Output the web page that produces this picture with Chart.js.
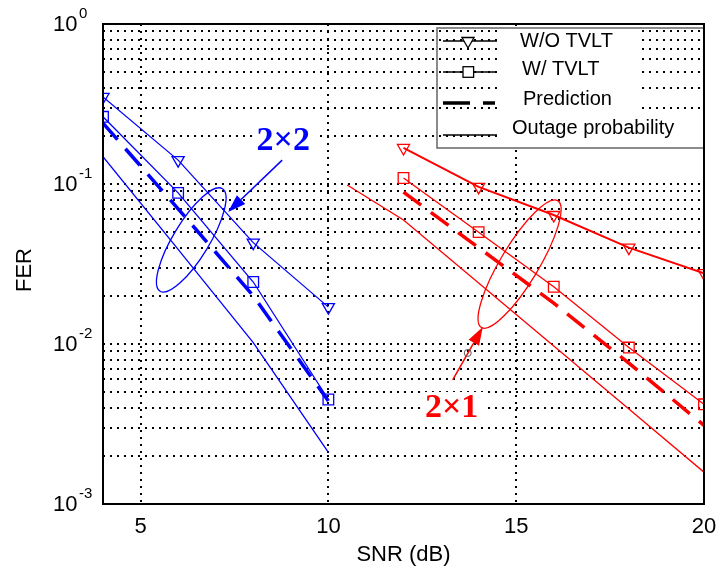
<!DOCTYPE html>
<html>
<head>
<meta charset="utf-8">
<script src="https://cdn.jsdelivr.net/npm/chart.js@4.4.1/dist/chart.umd.min.js"></script>
<style>
  html, body { margin: 0; padding: 0; background: #fff; }
</style>
</head>
<body>
<canvas id="fer" width="719" height="575"></canvas>
<script>
// SNR points (dB)
const snr22 = [4, 6, 8, 10];
const snr21 = [12, 14, 16, 18, 20];
const snrOutage21 = [10.5, 12, 14, 16, 18, 20];

// 2x2 curves
const woTvlt22 = [0.35, 0.141, 0.043, 0.017];
const wTvlt22 = [0.263, 0.088, 0.0244, 0.0045];
const pred22 = [0.24, 0.07, 0.02, 0.0044];
const outage22 = [0.148, 0.039, 0.0102, 0.0021];

// 2x1 curves
const woTvlt21 = [0.168, 0.096, 0.064, 0.040, 0.0277];
const wTvlt21 = [0.109, 0.050, 0.0228, 0.0095, 0.0042];
const pred21 = [0.089, 0.04, 0.018, 0.0076, 0.0031];
const outage21 = [0.0986, 0.0596, 0.0241, 0.00972, 0.00392, 0.00158];

const xTicks = [5, 10, 15, 20];
const yDecades = [-3, -2, -1, 0];
const legendLabels = ['W/O TVLT', 'W/ TVLT', 'Prediction', 'Outage probability'];

const BLUE = '#0000ff';
const RED = '#ff0000';
const FONT = '"Liberation Sans", Arial, sans-serif';
const PRED_DASH = [22, 12];

function pts(xs, ys) {
    return xs.map((x, i) => ({ x: x, y: ys[i] }));
}

function curve(xs, ys, color, opts) {
    return Object.assign({
        data: pts(xs, ys),
        borderColor: color,
        borderWidth: 1.3,
        pointRadius: 0,
        pointBorderColor: color,
        pointBackgroundColor: 'rgba(0,0,0,0)',
        pointBorderWidth: 1.3,
        fill: false,
        tension: 0,
    }, opts);
}

const triangle = { pointStyle: 'triangle', pointRadius: 7, pointRotation: 180 };
const square = { pointStyle: 'rect', pointRadius: 7.5 };
const dashed = { borderWidth: 3.5, borderDash: PRED_DASH };

// y ticks 1..9 x 10^e for log grid
const yTickValues = [];
yDecades.forEach((e, i) => {
    if (i === yDecades.length - 1) {
        yTickValues.push(Math.pow(10, e));
        return;
    }
    for (let m = 1; m <= 9; m++) yTickValues.push(m * Math.pow(10, e));
});

const annot = {
    id: 'annot',
    beforeDatasetsDraw(chart) {
        const { ctx, scales: { x, y } } = chart;
        ctx.save();
        ctx.fillStyle = '#fff';
        // legend text backgrounds
        ctx.fillRect(498, 29, 140, 84);
        ctx.fillRect(498, 113, 206, 34);
        // label backgrounds
        ctx.font = 'bold 34px "Liberation Serif", serif';
        [[8.8, 0.191, '2×2'], [13.28, 0.0041, '2×1']].forEach(([vx, vy, t]) => {
            const w = ctx.measureText(t).width;
            const px = x.getPixelForValue(vx), py = y.getPixelForValue(vy);
            ctx.fillRect(px - w / 2 - 4, py - 14, w + 12, 28);
        });
        ctx.restore();
    },
    afterDatasetsDraw(chart) {
        const { ctx, chartArea: a, scales: { x, y } } = chart;
        ctx.save();

        // ellipses
        const ell = (vx, vy, rx, ry, ang, color) => {
            ctx.beginPath();
            ctx.ellipse(x.getPixelForValue(vx), y.getPixelForValue(vy), rx, ry, ang * Math.PI / 180, 0, Math.PI * 2);
            ctx.strokeStyle = color;
            ctx.lineWidth = 1.3;
            ctx.stroke();
        };
        ell(6.35, 0.0447, 60, 18, -58.7, BLUE);
        ell(15.09, 0.0316, 74, 19, -59, RED);

        // arrows
        const arrow = (x0, y0, x1, y1, color) => {
            const p0 = [x.getPixelForValue(x0), y.getPixelForValue(y0)];
            const p1 = [x.getPixelForValue(x1), y.getPixelForValue(y1)];
            const ang = Math.atan2(p1[1] - p0[1], p1[0] - p0[0]);
            const len = 18, hw = 6;
            const bx = p1[0] - Math.cos(ang) * len, by = p1[1] - Math.sin(ang) * len;
            ctx.strokeStyle = color;
            ctx.fillStyle = color;
            ctx.lineWidth = 1.5;
            ctx.beginPath();
            ctx.moveTo(p0[0], p0[1]);
            ctx.lineTo(bx, by);
            ctx.stroke();
            ctx.beginPath();
            ctx.moveTo(p1[0], p1[1]);
            ctx.lineTo(bx - Math.sin(ang) * hw, by + Math.cos(ang) * hw);
            ctx.lineTo(bx + Math.sin(ang) * hw, by - Math.cos(ang) * hw);
            ctx.closePath();
            ctx.fill();
        };
        arrow(8.77, 0.141, 7.33, 0.0668, BLUE);
        arrow(13.31, 0.00596, 14.11, 0.01277, RED);

        // stray small circle
        ctx.beginPath();
        ctx.arc(x.getPixelForValue(13.71), y.getPixelForValue(0.00879), 3.5, 0, Math.PI * 2);
        ctx.strokeStyle = '#555';
        ctx.lineWidth = 1;
        ctx.stroke();

        // labels
        ctx.font = 'bold 34px "Liberation Serif", serif';
        ctx.textAlign = 'center';
        ctx.textBaseline = 'middle';
        ctx.fillStyle = BLUE;
        ctx.fillText('2×2', x.getPixelForValue(8.8), y.getPixelForValue(0.191) + 2);
        ctx.fillStyle = RED;
        ctx.fillText('2×1', x.getPixelForValue(13.28), y.getPixelForValue(0.0041) + 2);

        // legend
        const lx = 437, ly = 28;
        ctx.strokeStyle = '#666';
        ctx.lineWidth = 1.5;
        ctx.strokeRect(lx, ly, a.right - lx, 120);
        const rowY = [41, 72, 103, 135];
        const textY = [41, 69, 99, 128];
        const textX = [520, 522, 523, 512];
        ctx.strokeStyle = '#000';
        ctx.fillStyle = '#000';
        rowY.forEach((ry, i) => {
            ctx.lineWidth = i === 2 ? 3.5 : 1.3;
            ctx.beginPath();
            if (i === 2) {
                ctx.moveTo(443, ry); ctx.lineTo(470, ry);
                ctx.moveTo(483, ry); ctx.lineTo(495, ry);
            } else {
                ctx.moveTo(443, ry); ctx.lineTo(497, ry);
            }
            ctx.stroke();
            ctx.lineWidth = 1.3;
            if (i === 0) {
                const r = 7;
                ctx.beginPath();
                ctx.moveTo(468, ry + r);
                ctx.lineTo(468 - r * 0.866, ry - r / 2);
                ctx.lineTo(468 + r * 0.866, ry - r / 2);
                ctx.closePath();
                ctx.fillStyle = '#fff';
                ctx.fill();
                ctx.stroke();
            } else if (i === 1) {
                ctx.fillStyle = '#fff';
                ctx.fillRect(463, ry - 5.3, 10.6, 10.6);
                ctx.strokeRect(463, ry - 5.3, 10.6, 10.6);
            }
            ctx.fillStyle = '#000';
            ctx.font = '20px ' + FONT;
            ctx.textAlign = 'left';
            ctx.textBaseline = 'middle';
            ctx.fillText(legendLabels[i], textX[i], textY[i]);
        });

        // axes box
        ctx.strokeStyle = '#000';
        ctx.lineWidth = 2;
        ctx.strokeRect(a.left, a.top, a.right - a.left, a.bottom - a.top);

        // tick labels
        ctx.fillStyle = '#000';
        ctx.font = '22px ' + FONT;
        ctx.textAlign = 'center';
        ctx.textBaseline = 'middle';
        xTicks.forEach(v => ctx.fillText(String(v), x.getPixelForValue(v), a.bottom + 23));
        yDecades.forEach(e => {
            const py = y.getPixelForValue(Math.pow(10, e));
            ctx.textAlign = 'left';
            ctx.font = '22px ' + FONT;
            ctx.fillText('10', 53, py + 1);
            ctx.font = '15px ' + FONT;
            ctx.fillText(String(e), 79, py - 10);
        });

        // axis titles
        ctx.font = '22px ' + FONT;
        ctx.textAlign = 'center';
        ctx.fillText('SNR (dB)', (a.left + a.right) / 2, 555);
        ctx.translate(25, 270);
        ctx.rotate(-Math.PI / 2);
        ctx.fillText('FER', 0, 0);
        ctx.restore();
    }
};

const gridOpts = { color: '#000', lineWidth: 2, drawTicks: false };
const borderOpts = { display: false, dash: [2, 5] };

new Chart(document.getElementById('fer').getContext('2d'), {
    type: 'line',
    data: {
        datasets: [
            curve(snr22, woTvlt22, BLUE, triangle),
            curve(snr22, wTvlt22, BLUE, square),
            curve(snr22, pred22, BLUE, dashed),
            curve(snr22, outage22, BLUE, {}),
            curve(snr21, woTvlt21, RED, Object.assign({ borderWidth: 2 }, triangle)),
            curve(snr21, wTvlt21, RED, square),
            curve(snr21, pred21, RED, dashed),
            curve(snrOutage21, outage21, RED, {}),
        ],
    },
    options: {
        responsive: false,
        animation: false,
        devicePixelRatio: 1,
        layout: { padding: { left: 103, top: 24, right: 15, bottom: 71 } },
        plugins: { legend: { display: false }, tooltip: { enabled: false } },
        scales: {
            x: {
                type: 'linear',
                min: 4,
                max: 20,
                afterBuildTicks: s => { s.ticks = xTicks.map(v => ({ value: v })); },
                ticks: { display: false },
                grid: gridOpts,
                border: borderOpts,
            },
            y: {
                type: 'logarithmic',
                min: 1e-3,
                max: 1,
                afterBuildTicks: s => { s.ticks = yTickValues.map(v => ({ value: v })); },
                ticks: { display: false },
                grid: gridOpts,
                border: borderOpts,
            },
        },
    },
    plugins: [annot],
});
</script>
</body>
</html>
